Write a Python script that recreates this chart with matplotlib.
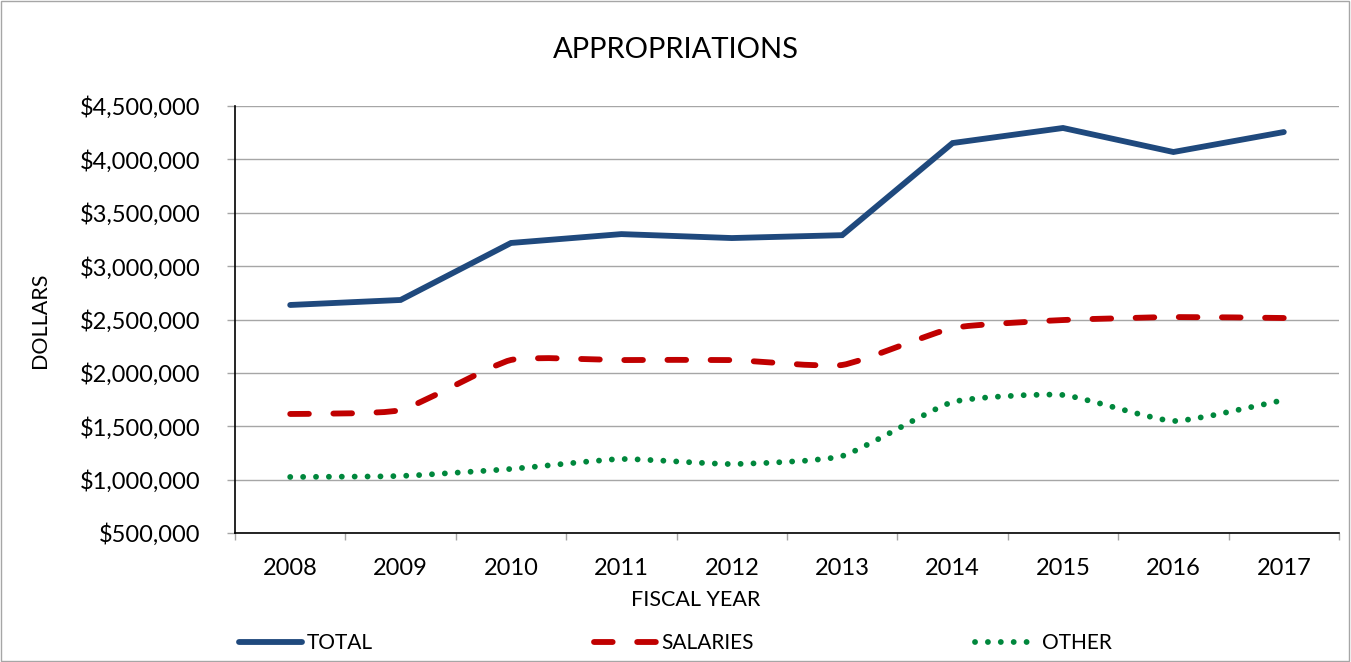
import matplotlib
matplotlib.use("Agg")
import matplotlib.pyplot as plt
from matplotlib.lines import Line2D
from matplotlib.patches import PathPatch, Rectangle
from matplotlib.path import Path
from matplotlib.ticker import FuncFormatter, MultipleLocator

plt.rcParams["font.family"] = ["Lato", "DejaVu Sans"]

years = ["2008", "2009", "2010", "2011", "2012", "2013", "2014", "2015", "2016", "2017"]
total = [2636000, 2683000, 3217000, 3300000, 3263000, 3290000, 4153000, 4294000, 4069000, 4256000]
salaries = [1615000, 1652000, 2121000, 2120000, 2120000, 2074000, 2420000, 2495000, 2523000, 2514000]
other = [1025000, 1034000, 1100000, 1193000, 1146000, 1221000, 1727000, 1793000, 1549000, 1746000]

NAVY = "#1F497D"
RED = "#C00000"
GREEN = "#00873C"
GRID = "#A6A6A6"


def smooth_path(xs, ys, k=1 / 12):
    # cubic bezier through every point, control points taken from the neighbours
    pts = list(zip(xs, ys))
    n = len(pts)
    verts = [pts[0]]
    codes = [Path.MOVETO]
    for i in range(n - 1):
        p0 = pts[max(i - 1, 0)]
        p1 = pts[i]
        p2 = pts[i + 1]
        p3 = pts[min(i + 2, n - 1)]
        c1 = (p1[0] + (p2[0] - p0[0]) * k, p1[1] + (p2[1] - p0[1]) * k)
        c2 = (p2[0] - (p3[0] - p1[0]) * k, p2[1] - (p3[1] - p1[1]) * k)
        verts += [c1, c2, p2]
        codes += [Path.CURVE4] * 3
    return Path(verts, codes)


fig = plt.figure(figsize=(13.51, 6.62), dpi=100)
ax = fig.add_axes([235 / 1351, 129 / 662, 1104 / 1351, 427 / 662])

x = list(range(len(years)))
lw = 4.2
dash_style = (0, (3.2, 4.2))
dot_style = (0, (0.01, 2.2))

ax.plot(x, total, color=NAVY, lw=lw, solid_capstyle="round", solid_joinstyle="miter", zorder=3)
ax.add_patch(PathPatch(smooth_path(x, salaries), fill=False, edgecolor=RED, lw=lw,
                       linestyle=dash_style, capstyle="round", zorder=3))
ax.add_patch(PathPatch(smooth_path(x, other), fill=False, edgecolor=GREEN, lw=lw,
                       linestyle=dot_style, capstyle="round", zorder=3))

ax.set_xlim(-0.5, len(years) - 0.5)
ax.set_ylim(500000, 4500000)
ax.yaxis.set_major_locator(MultipleLocator(500000))
ax.yaxis.set_major_formatter(FuncFormatter(lambda v, p: f"${v:,.0f}"))
ax.set_xticks(x)
ax.set_xticklabels(years)
ax.set_xticks([i - 0.5 for i in range(len(years) + 1)], minor=True)

ax.grid(axis="y", color=GRID, lw=1)
ax.set_axisbelow(True)
for side in ["top", "right"]:
    ax.spines[side].set_visible(False)
for side in ["left", "bottom"]:
    ax.spines[side].set_color("black")
    ax.spines[side].set_linewidth(1.2)

ax.tick_params(axis="y", length=5.8, color=GRID, width=1, pad=19, labelsize=17)
ax.tick_params(axis="x", which="major", length=0, pad=18, labelsize=17)
ax.tick_params(axis="x", which="minor", length=5, color=GRID, width=1)

fig.text(0.5, 1 - 50 / 662, "APPROPRIATIONS", ha="center", va="center", fontsize=21)
fig.text(40 / 1351, 1 - 320 / 662, "DOLLARS", rotation=90, ha="center", va="center", fontsize=15.5)
fig.text(696 / 1351, 1 - 600 / 662, "FISCAL YEAR", ha="center", va="center", fontsize=15.5)

handles = [
    Line2D([], [], color=NAVY, lw=lw, solid_capstyle="round", label="TOTAL"),
    Line2D([], [], color=RED, lw=lw, linestyle=dash_style, dash_capstyle="round", label="SALARIES"),
    Line2D([], [], color=GREEN, lw=lw, linestyle=dot_style, dash_capstyle="round", label="OTHER"),
]
fig.legend(handles=handles, loc="center left", bbox_to_anchor=(239 / 1351, 1 - 643 / 662),
           ncol=3, frameon=False, fontsize=15, handlelength=3.0, handletextpad=0.25,
           columnspacing=10.6, borderpad=0, borderaxespad=0)

fig.patches.append(Rectangle((0.5 / 1351, 1.5 / 662), 1348 / 1351, 660 / 662, fill=False,
                             edgecolor="#A6A6A6", lw=1, transform=fig.transFigure))

plt.savefig("out.png", dpi=100)
plt.close()
